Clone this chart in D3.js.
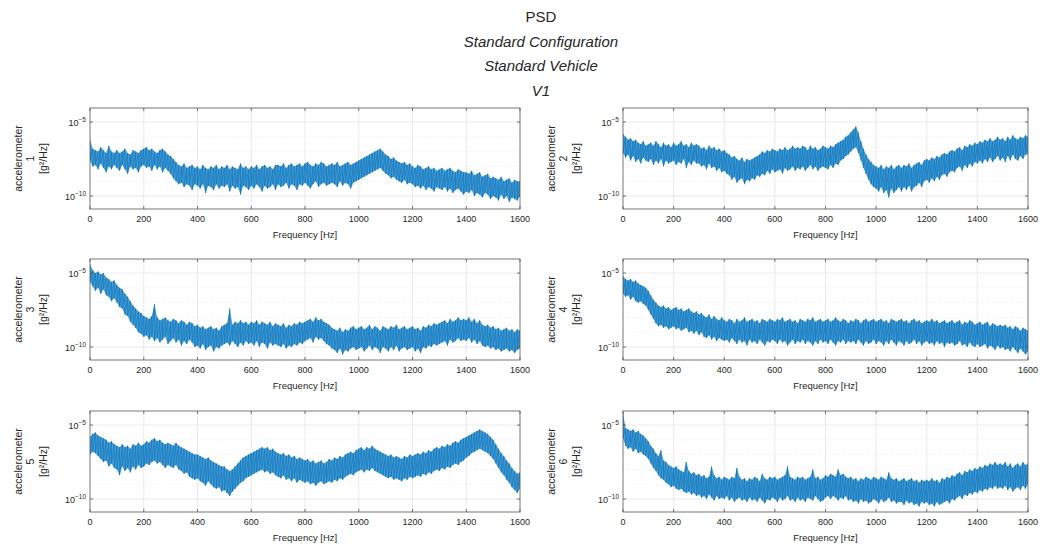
<!DOCTYPE html>
<html>
<head>
	<meta charset="utf-8">
	<title>PSD</title>
	<script type="text/javascript" src="https://cdnjs.cloudflare.com/ajax/libs/d3/7.8.5/d3.min.js"></script>
	<style type="text/css">
		body{ margin: 0; background-color: #fff; }
		svg text{ font-family: "Liberation Sans", Arial, sans-serif; fill: #262626; }
	</style>
</head>
<body>
	<svg id="chart" width="1040" height="549"></svg>
	<script type="text/javascript">
		// frequency bins, 10 Hz apart
		var freqHz = d3.range(0, 1601, 10);
		var xTicks = [0, 200, 400, 600, 800, 1000, 1200, 1400, 1600];
		var yTickExp = [-5, -10];
		var yDecades = [-5, -6, -7, -8, -9, -10];
		var titleLines = ['PSD', 'Standard Configuration', 'Standard Vehicle', 'V1'];

		// log10 of PSD [g^2/Hz]: upper and lower edge of the noisy band in each 10 Hz bin
		var hi1 = [
			-6.2, -6.8, -6.9, -7.0, -6.7, -6.9, -7.1, -6.6, -7.0, -7.1,
			-6.9, -7.1, -7.0, -6.8, -7.1, -7.2, -6.9, -7.0, -7.1, -6.9,
			-6.8, -6.7, -6.9, -6.8, -7.0, -7.1, -6.9, -6.8, -7.0, -7.2,
			-7.3, -7.5, -7.7, -7.9, -8.0, -7.8, -8.1, -8.0, -7.9, -8.1,
			-8.0, -8.2, -7.9, -8.1, -8.2, -8.0, -8.1, -7.9, -8.2, -8.0,
			-8.1, -7.9, -8.2, -8.0, -8.1, -8.2, -7.8, -8.1, -8.0, -8.2,
			-8.0, -8.1, -7.9, -8.2, -8.0, -7.9, -8.1, -8.0, -8.2, -7.9,
			-7.9, -8.0, -7.8, -8.1, -7.9, -7.8, -8.0, -7.9, -7.8, -8.0,
			-7.8, -7.7, -7.9, -8.0, -7.8, -7.9, -7.7, -7.8, -8.0, -7.9,
			-7.8, -7.9, -7.7, -8.0, -7.9, -7.8, -7.7, -7.9, -7.8, -7.7,
			-7.6, -7.5, -7.4, -7.3, -7.2, -7.1, -7.0, -6.9, -6.8, -7.0,
			-7.2, -7.3, -7.5, -7.4, -7.6, -7.7, -7.8, -7.7, -7.9, -7.8,
			-8.0, -8.1, -7.9, -8.0, -8.2, -8.1, -8.0, -8.2, -8.1, -8.3,
			-8.2, -8.1, -8.3, -8.2, -8.1, -8.3, -8.4, -8.2, -8.3, -8.4,
			-8.4, -8.5, -8.3, -8.6, -8.5, -8.4, -8.7, -8.6, -8.5, -8.8,
			-8.7, -8.8, -8.9, -8.7, -9.0, -8.9, -8.8, -9.1, -8.9, -9.0,
			-9.0
		];
		var lo1 = [
			-7.6, -8.0, -7.9, -8.2, -7.8, -8.1, -8.4, -8.0, -8.2, -7.9,
			-8.1, -8.3, -7.9, -8.2, -8.5, -8.0, -8.2, -8.1, -8.4, -8.0,
			-7.9, -8.1, -8.0, -8.3, -7.9, -8.2, -8.0, -8.4, -8.1, -8.3,
			-8.5, -8.8, -9.0, -9.2, -9.1, -9.4, -9.2, -9.3, -9.6, -9.2,
			-9.3, -9.5, -9.2, -9.8, -9.3, -9.4, -9.6, -9.2, -9.5, -9.3,
			-9.4, -9.2, -9.7, -9.3, -9.5, -9.4, -9.9, -9.3, -9.4, -9.6,
			-9.3, -9.5, -9.2, -9.4, -9.7, -9.3, -9.5, -9.4, -9.2, -9.6,
			-9.2, -9.4, -9.3, -9.1, -9.5, -9.2, -9.3, -9.6, -9.2, -9.3,
			-9.1, -9.3, -9.5, -9.2, -9.0, -9.4, -9.2, -9.1, -9.3, -9.2,
			-9.1, -9.2, -9.4, -9.0, -9.3, -9.1, -9.2, -9.5, -9.1, -9.0,
			-8.9, -8.8, -8.7, -8.6, -8.5, -8.4, -8.3, -8.2, -8.1, -8.3,
			-8.5, -8.6, -8.8, -8.7, -8.9, -9.0, -9.1, -8.9, -9.2, -9.1,
			-9.2, -9.4, -9.3, -9.5, -9.3, -9.6, -9.4, -9.5, -9.7, -9.4,
			-9.5, -9.6, -9.4, -9.7, -9.5, -9.8, -9.6, -9.5, -9.7, -9.9,
			-9.7, -9.8, -9.6, -10.0, -9.8, -9.9, -10.1, -9.8, -9.9, -10.2,
			-10.0, -10.1, -10.3, -9.9, -10.2, -10.0, -10.4, -10.1, -10.2, -10.3,
			-10.0
		];
		var hi2 = [
			-5.8, -6.0, -6.2, -6.1, -6.3, -6.2, -6.4, -6.5, -6.3, -6.6,
			-6.5, -6.4, -6.6, -6.3, -6.5, -6.7, -6.4, -6.6, -6.5, -6.7,
			-6.4, -6.6, -6.5, -6.3, -6.6, -6.5, -6.7, -6.4, -6.6, -6.5,
			-6.6, -6.8, -6.7, -6.9, -6.6, -6.8, -6.7, -6.9, -6.8, -7.0,
			-6.9, -7.1, -7.2, -7.4, -7.3, -7.5, -7.6, -7.4, -7.7, -7.5,
			-7.6, -7.5, -7.4, -7.3, -7.2, -7.0, -7.1, -6.9, -7.0, -6.8,
			-6.9, -7.0, -6.8, -6.9, -6.7, -6.9, -6.8, -6.6, -6.8, -6.7,
			-6.8, -6.6, -6.7, -6.9, -6.6, -6.8, -6.7, -6.9, -6.8, -6.6,
			-6.7, -6.8, -6.6, -6.7, -6.5, -6.4, -6.3, -6.2, -6.0, -5.9,
			-5.7, -5.5, -5.3, -5.7, -6.3, -6.8, -7.2, -7.5, -7.7, -7.9,
			-8.0, -8.1, -7.9, -8.2, -8.0, -8.1, -7.9, -8.2, -8.0, -7.9,
			-8.1, -7.9, -8.0, -7.8, -8.1, -7.9, -7.8, -7.7, -7.9, -7.6,
			-7.5, -7.6, -7.4, -7.5, -7.3, -7.4, -7.2, -7.1, -7.2, -7.0,
			-6.9, -7.0, -6.8, -6.7, -6.9, -6.6, -6.7, -6.5, -6.6, -6.4,
			-6.5, -6.3, -6.4, -6.2, -6.3, -6.1, -6.3, -6.2, -6.0, -6.2,
			-6.1, -6.3, -6.0, -6.2, -5.9, -6.1, -6.2, -6.0, -6.1, -5.9,
			-6.0
		];
		var lo2 = [
			-7.1, -7.4, -7.2, -7.6, -7.3, -7.7, -7.5, -7.8, -7.4, -7.6,
			-7.7, -7.5, -7.9, -7.6, -7.8, -7.5, -8.0, -7.6, -7.8, -7.7,
			-7.6, -7.9, -7.7, -7.8, -7.5, -8.1, -7.7, -7.9, -7.6, -7.8,
			-7.8, -8.0, -7.9, -8.2, -7.8, -8.1, -8.0, -8.3, -8.1, -8.4,
			-8.3, -8.5, -8.6, -8.9, -8.7, -9.1, -8.9, -8.8, -9.2, -8.9,
			-9.0, -8.8, -8.9, -8.6, -8.7, -8.5, -8.6, -8.3, -8.5, -8.2,
			-8.4, -8.3, -8.2, -8.5, -8.1, -8.3, -8.2, -8.0, -8.3, -8.1,
			-8.2, -8.0, -8.3, -8.1, -7.9, -8.2, -8.0, -8.3, -8.1, -8.0,
			-8.1, -8.2, -7.9, -8.1, -7.8, -7.9, -7.6, -7.5, -7.3, -7.2,
			-7.0, -6.8, -6.7, -7.1, -7.6, -8.1, -8.5, -8.9, -9.2, -9.4,
			-9.5, -9.7, -9.4, -9.8, -9.6, -10.1, -9.5, -9.8, -9.6, -9.4,
			-9.7, -9.4, -9.6, -9.3, -9.7, -9.4, -9.3, -9.1, -9.4, -9.0,
			-8.9, -9.1, -8.8, -9.0, -8.7, -8.9, -8.6, -8.5, -8.7, -8.4,
			-8.3, -8.4, -8.1, -8.0, -8.3, -7.9, -8.1, -7.8, -8.0, -7.7,
			-7.8, -7.6, -7.8, -7.5, -7.7, -7.4, -7.7, -7.5, -7.3, -7.6,
			-7.4, -7.7, -7.3, -7.6, -7.2, -7.5, -7.6, -7.3, -7.5, -7.2,
			-7.2
		];
		var hi3 = [
			-4.4, -4.8, -5.0, -4.9, -5.1, -5.0, -5.3, -5.4, -5.6, -5.5,
			-5.8, -6.0, -6.1, -6.4, -6.6, -6.9, -7.2, -7.4, -7.6, -7.7,
			-7.9, -8.0, -8.1, -7.9, -7.1, -8.0, -8.2, -8.1, -8.0, -8.2,
			-8.3, -8.1, -8.2, -8.4, -8.2, -8.3, -8.5, -8.3, -8.4, -8.6,
			-8.5, -8.7, -8.6, -8.8, -8.7, -8.6, -8.8, -8.7, -8.9, -8.6,
			-8.5, -8.4, -7.4, -8.5, -8.3, -8.4, -8.2, -8.4, -8.3, -8.5,
			-8.3, -8.4, -8.2, -8.5, -8.3, -8.4, -8.5, -8.3, -8.6, -8.4,
			-8.5, -8.6, -8.4, -8.7, -8.5, -8.6, -8.4, -8.5, -8.3, -8.4,
			-8.3, -8.2, -8.1, -8.3, -8.0, -8.2, -8.1, -8.3, -8.4, -8.5,
			-8.7, -8.8, -8.9, -8.7, -9.0, -8.8, -8.9, -8.7, -8.6, -8.8,
			-8.7, -8.6, -8.8, -8.7, -8.5, -8.8, -8.6, -8.7, -8.9, -8.6,
			-8.7, -8.8, -8.6, -8.7, -8.5, -8.8, -8.7, -8.6, -8.8, -8.7,
			-8.6, -8.8, -8.7, -8.9, -8.6, -8.7, -8.5, -8.6, -8.4, -8.5,
			-8.4, -8.3, -8.2, -8.4, -8.1, -8.3, -8.2, -8.0, -8.2, -8.1,
			-8.2, -8.0, -8.3, -8.1, -8.4, -8.2, -8.5, -8.6, -8.5, -8.7,
			-8.6, -8.8, -8.7, -8.9, -8.8, -8.7, -8.9, -8.8, -9.0, -8.8,
			-8.9
		];
		var lo3 = [
			-5.6, -5.9, -6.2, -6.0, -6.4, -6.1, -6.5, -6.6, -6.9, -6.7,
			-7.0, -7.3, -7.4, -7.8, -7.9, -8.3, -8.5, -8.7, -9.0, -9.1,
			-9.3, -9.2, -9.5, -9.3, -9.6, -9.4, -9.7, -9.5, -9.3, -9.8,
			-9.6, -9.4, -9.7, -9.5, -9.9, -9.6, -9.8, -9.5, -9.7, -10.0,
			-9.9, -10.1, -9.8, -10.2, -10.0, -9.9, -10.3, -10.0, -10.1, -9.9,
			-9.8, -9.7, -9.9, -9.6, -9.8, -10.0, -9.7, -9.9, -9.6, -9.8,
			-9.7, -9.9, -9.6, -10.0, -9.7, -9.8, -10.1, -9.7, -9.9, -9.8,
			-9.9, -10.0, -9.8, -10.1, -9.9, -10.0, -9.8, -9.9, -9.7, -9.8,
			-9.6, -9.5, -9.4, -9.7, -9.3, -9.5, -9.4, -9.6, -9.8, -9.9,
			-10.1, -10.2, -10.4, -10.1, -10.5, -10.2, -10.3, -10.1, -10.0, -10.2,
			-10.1, -10.0, -10.3, -10.1, -9.9, -10.2, -10.0, -10.1, -10.4, -10.0,
			-10.1, -10.3, -10.0, -10.2, -9.9, -10.3, -10.1, -10.0, -10.2, -10.1,
			-10.0, -10.3, -10.1, -10.4, -10.0, -10.1, -9.9, -10.0, -9.8, -9.9,
			-9.8, -9.7, -9.6, -9.9, -9.5, -9.7, -9.6, -9.4, -9.6, -9.5,
			-9.6, -9.4, -9.7, -9.5, -9.8, -9.6, -9.9, -10.0, -9.9, -10.1,
			-10.0, -10.2, -10.1, -10.3, -10.2, -10.1, -10.3, -10.2, -10.4, -10.2,
			-10.1
		];
		var hi4 = [
			-5.2, -5.4, -5.5, -5.4, -5.6, -5.5, -5.7, -5.8, -5.9, -6.0,
			-6.2, -6.5, -6.8, -7.0, -7.2, -7.3, -7.2, -7.4, -7.3, -7.5,
			-7.4, -7.3, -7.5, -7.4, -7.6, -7.5, -7.4, -7.6, -7.7, -7.6,
			-7.8, -7.7, -7.9, -8.0, -7.8, -8.1, -7.9, -8.1, -8.2, -8.0,
			-8.2, -8.3, -8.1, -8.2, -8.4, -8.1, -8.3, -8.2, -8.0, -8.3,
			-8.2, -8.1, -8.3, -8.2, -8.4, -8.1, -8.2, -8.3, -8.1, -8.2,
			-8.3, -8.1, -8.2, -8.0, -8.3, -8.2, -8.1, -8.3, -8.2, -8.4,
			-8.1, -8.2, -8.3, -8.1, -8.2, -8.0, -8.3, -8.2, -8.1, -8.3,
			-8.2, -8.1, -8.3, -8.2, -8.0, -8.2, -8.3, -8.1, -8.2, -8.4,
			-8.2, -8.3, -8.1, -8.2, -8.4, -8.2, -8.1, -8.3, -8.2, -8.1,
			-8.3, -8.2, -8.1, -8.3, -8.2, -8.4, -8.1, -8.2, -8.3, -8.2,
			-8.1, -8.3, -8.2, -8.4, -8.2, -8.1, -8.3, -8.2, -8.4, -8.3,
			-8.2, -8.3, -8.1, -8.3, -8.2, -8.4, -8.3, -8.2, -8.4, -8.3,
			-8.2, -8.4, -8.3, -8.2, -8.5, -8.3, -8.4, -8.2, -8.3, -8.5,
			-8.4, -8.3, -8.5, -8.4, -8.3, -8.6, -8.4, -8.5, -8.6, -8.5,
			-8.6, -8.5, -8.7, -8.6, -8.8, -8.6, -8.7, -8.9, -8.7, -8.8,
			-8.9
		];
		var lo4 = [
			-6.4, -6.6, -6.5, -6.8, -6.6, -6.9, -7.0, -6.9, -7.1, -7.2,
			-7.5, -7.8, -8.1, -8.4, -8.6, -8.5, -8.7, -8.6, -8.8, -8.7,
			-8.6, -8.8, -8.7, -8.9, -8.8, -8.7, -9.0, -8.9, -9.1, -8.9,
			-9.2, -9.0, -9.3, -9.4, -9.2, -9.5, -9.3, -9.6, -9.4, -9.5,
			-9.6, -9.5, -9.7, -9.4, -9.6, -9.8, -9.5, -9.7, -9.6, -9.9,
			-9.5, -9.7, -9.6, -9.8, -9.5, -9.7, -9.9, -9.6, -9.7, -9.5,
			-9.6, -9.8, -9.5, -9.7, -9.6, -9.9, -9.7, -9.5, -9.8, -9.6,
			-9.7, -9.5, -9.8, -9.6, -9.7, -9.9, -9.6, -9.8, -9.5, -9.7,
			-9.6, -9.8, -9.5, -9.7, -9.9, -9.6, -9.7, -9.5, -9.8, -9.6,
			-9.7, -9.6, -9.8, -9.5, -9.7, -9.9, -9.6, -9.8, -9.7, -9.5,
			-9.8, -9.6, -9.7, -9.9, -9.6, -9.8, -9.5, -9.7, -9.9, -9.6,
			-9.7, -9.9, -9.6, -9.8, -9.7, -9.5, -9.8, -9.6, -9.9, -9.7,
			-9.6, -9.8, -9.7, -9.9, -9.6, -9.8, -9.7, -10.0, -9.7, -9.8,
			-9.7, -9.9, -9.8, -9.6, -9.9, -9.8, -10.0, -9.7, -9.9, -10.0,
			-9.8, -10.0, -9.9, -9.8, -10.1, -9.9, -10.0, -10.2, -9.9, -10.1,
			-10.0, -10.2, -10.1, -10.3, -10.0, -10.2, -10.4, -10.1, -10.3, -10.5,
			-10.3
		];
		var hi5 = [
			-5.8, -5.6, -5.5, -5.7, -5.8, -5.9, -6.0, -6.2, -6.1, -6.3,
			-6.4, -6.5, -6.3, -6.5, -6.4, -6.6, -6.3, -6.4, -6.2, -6.4,
			-6.3, -6.1, -6.2, -6.0, -5.9, -6.1, -6.0, -6.2, -6.3, -6.2,
			-6.3, -6.4, -6.2, -6.4, -6.5, -6.6, -6.7, -6.8, -6.9, -7.0,
			-7.0, -7.1, -7.2, -7.3, -7.2, -7.4, -7.5, -7.6, -7.7, -7.8,
			-7.8, -8.0, -8.1, -8.0, -7.8, -7.6, -7.4, -7.2, -7.1, -7.0,
			-6.9, -6.8, -6.7, -6.6, -6.5, -6.6, -6.5, -6.7, -6.6, -6.8,
			-6.9, -7.0, -6.9, -7.1, -7.0, -7.2, -7.1, -7.3, -7.2, -7.3,
			-7.4, -7.3, -7.5, -7.4, -7.6, -7.5, -7.4, -7.6, -7.5, -7.3,
			-7.4, -7.2, -7.3, -7.1, -7.2, -7.0, -6.9, -6.8, -6.9, -6.7,
			-6.6, -6.5, -6.7, -6.5, -6.6, -6.4, -6.6, -6.7, -6.8, -6.9,
			-7.0, -7.1, -7.0, -7.2, -7.1, -7.2, -7.3, -7.1, -7.2, -7.0,
			-7.1, -7.0, -6.9, -7.0, -6.8, -6.9, -6.7, -6.8, -6.6, -6.5,
			-6.6, -6.4, -6.5, -6.3, -6.4, -6.2, -6.1, -6.2, -6.0, -5.9,
			-5.8, -5.7, -5.6, -5.5, -5.4, -5.3, -5.4, -5.5, -5.6, -5.8,
			-6.0, -6.3, -6.6, -6.9, -7.1, -7.4, -7.6, -7.9, -8.1, -8.3,
			-8.2
		];
		var lo5 = [
			-7.0, -6.8, -6.9, -7.1, -7.3, -7.5, -7.4, -7.8, -7.6, -7.9,
			-8.0, -8.4, -7.8, -8.1, -7.9, -8.2, -7.8, -8.0, -7.7, -7.9,
			-7.8, -7.6, -7.7, -7.5, -7.4, -7.6, -7.5, -7.7, -7.9, -7.7,
			-7.8, -7.9, -7.7, -8.0, -8.1, -8.3, -8.2, -8.5, -8.6, -8.7,
			-8.6, -8.8, -8.9, -9.1, -8.8, -9.0, -9.2, -9.3, -9.2, -9.5,
			-9.4, -9.6, -9.8, -9.5, -9.3, -9.1, -8.9, -8.8, -8.6, -8.5,
			-8.4, -8.3, -8.2, -8.1, -8.0, -8.2, -8.1, -8.3, -8.2, -8.4,
			-8.5, -8.6, -8.4, -8.7, -8.6, -8.8, -8.6, -8.9, -8.7, -8.8,
			-8.9, -8.8, -9.0, -8.9, -9.1, -8.9, -8.8, -9.0, -8.9, -8.8,
			-8.9, -8.7, -8.8, -8.6, -8.7, -8.5, -8.4, -8.3, -8.4, -8.2,
			-8.1, -8.0, -8.2, -8.0, -8.1, -7.9, -8.1, -8.2, -8.3, -8.4,
			-8.5, -8.6, -8.5, -8.7, -8.6, -8.7, -8.8, -8.6, -8.7, -8.5,
			-8.6, -8.5, -8.4, -8.5, -8.3, -8.4, -8.2, -8.3, -8.1, -8.0,
			-8.1, -7.9, -8.0, -7.8, -7.9, -7.7, -7.6, -7.7, -7.5, -7.4,
			-7.2, -7.1, -6.9, -6.8, -6.7, -6.6, -6.7, -6.8, -6.9, -7.1,
			-7.3, -7.6, -7.9, -8.2, -8.4, -8.7, -8.9, -9.2, -9.4, -9.6,
			-9.3
		];
		var hi6 = [
			-4.2, -5.2, -5.3, -5.4, -5.3, -5.5, -5.4, -5.6, -5.7, -5.9,
			-6.1, -6.4, -6.6, -6.9, -7.1, -6.7, -7.4, -7.5, -7.7, -7.8,
			-7.9, -7.8, -8.0, -8.1, -8.2, -7.5, -8.1, -8.3, -8.2, -8.4,
			-8.3, -8.5, -8.4, -8.6, -8.5, -7.8, -8.4, -8.6, -8.5, -8.7,
			-8.5, -8.6, -8.7, -8.5, -8.6, -7.9, -8.5, -8.7, -8.6, -8.8,
			-8.6, -8.7, -8.5, -8.6, -8.8, -8.3, -8.6, -8.7, -8.5, -8.6,
			-8.5, -8.7, -8.6, -8.5, -8.4, -7.8, -8.5, -8.6, -8.7, -8.5,
			-8.6, -8.5, -8.7, -8.6, -8.5, -8.0, -8.6, -8.5, -8.7, -8.6,
			-8.4, -8.5, -8.3, -8.4, -8.5, -8.0, -8.4, -8.3, -8.5, -8.6,
			-8.5, -8.7, -8.6, -8.8, -8.6, -8.7, -8.5, -8.6, -8.7, -8.5,
			-8.6, -8.7, -8.5, -8.6, -8.7, -8.2, -8.6, -8.7, -8.6, -8.8,
			-8.7, -8.6, -8.8, -8.7, -8.6, -8.8, -8.7, -8.9, -8.7, -8.8,
			-8.7, -8.8, -8.6, -8.8, -8.7, -8.9, -8.6, -8.7, -8.5, -8.6,
			-8.4, -8.5, -8.3, -8.2, -8.4, -8.1, -8.2, -8.0, -8.1, -7.9,
			-8.0, -7.8, -7.9, -7.7, -7.8, -7.6, -7.7, -7.5, -7.7, -7.6,
			-7.7, -7.5, -7.8, -7.6, -7.9, -7.7, -7.6, -7.8, -7.5, -7.7,
			-7.6
		];
		var lo6 = [
			-5.9, -6.4, -6.6, -6.5, -6.8, -6.6, -6.9, -6.8, -7.0, -7.1,
			-7.3, -7.6, -7.9, -8.1, -8.4, -8.6, -8.7, -8.9, -9.0, -9.2,
			-9.1, -9.3, -9.4, -9.3, -9.5, -9.6, -9.5, -9.7, -9.6, -9.8,
			-9.7, -9.9, -9.8, -10.0, -9.7, -9.9, -10.1, -9.8, -10.0, -9.9,
			-10.0, -9.8, -10.1, -9.9, -10.2, -10.0, -9.9, -10.1, -10.0, -10.2,
			-9.9, -10.1, -10.0, -10.2, -9.9, -10.1, -10.3, -10.0, -10.1, -9.9,
			-10.0, -10.2, -9.9, -10.1, -10.0, -9.8, -10.1, -10.0, -10.2, -9.9,
			-10.1, -10.0, -10.2, -9.9, -10.0, -10.1, -9.8, -10.0, -10.2, -10.1,
			-9.9, -9.8, -10.0, -9.8, -9.9, -10.1, -9.9, -10.0, -9.8, -10.1,
			-10.0, -10.2, -10.1, -10.3, -10.0, -10.2, -10.1, -10.3, -10.2, -10.0,
			-10.1, -10.3, -10.0, -10.2, -10.1, -9.9, -10.2, -10.1, -10.3, -10.2,
			-10.2, -10.4, -10.1, -10.3, -10.2, -10.4, -10.3, -10.5, -10.2, -10.3,
			-10.2, -10.4, -10.3, -10.5, -10.2, -10.4, -10.3, -10.2, -10.1, -10.3,
			-10.0, -10.1, -9.9, -9.8, -10.0, -9.7, -9.8, -9.6, -9.7, -9.5,
			-9.6, -9.4, -9.5, -9.3, -9.4, -9.2, -9.3, -9.1, -9.3, -9.2,
			-9.3, -9.1, -9.4, -9.2, -9.5, -9.3, -9.2, -9.4, -9.1, -9.3,
			-9.0
		];
		var upper = [hi1, hi2, hi3, hi4, hi5, hi6];
		var lower = [lo1, lo2, lo3, lo4, lo5, lo6];

		var svg = d3.select('#chart');
		var cols = [[90, 520], [623, 1028]];
		var rows = [[108, 209], [259, 360], [411, 512]];
		var blue = '#0072BD';

		svg.selectAll('text.title').data(titleLines).enter().append('text')
			.attr('class', 'title')
			.attr('x', 541)
			.attr('y', function(d, i){ return 22 + i * 24.5; })
			.attr('text-anchor', 'middle')
			.style('font-size', '15px')
			.style('font-style', function(d, i){ return i == 0 ? 'normal' : 'italic'; })
			.text(function(d){ return d; });

		upper.forEach(function(hiVals, k){
			var loVals = lower[k];
			var c = cols[k % 2], r = rows[Math.floor(k / 2)];
			var x = d3.scaleLinear().domain([0, 1600]).range(c);
			var y = d3.scaleLog().domain([Math.pow(10, -10.88), Math.pow(10, -4.05)]).range([r[1], r[0]]);
			var ye = function(e){ return y(Math.pow(10, e)); };
			var g = svg.append('g');

			// grid
			g.selectAll('line.vg').data(xTicks.slice(1, -1)).enter().append('line')
				.attr('x1', function(d){ return x(d); }).attr('x2', function(d){ return x(d); })
				.attr('y1', r[0]).attr('y2', r[1])
				.attr('stroke', '#dcdcdc').attr('stroke-width', 0.6);
			g.selectAll('line.mg').data(yDecades).enter().append('line')
				.attr('x1', c[0]).attr('x2', c[1])
				.attr('y1', function(d){ return ye(d); })
				.attr('y2', function(d){ return ye(d); })
				.attr('stroke', function(d){ return (d == -5 || d == -10) ? '#dcdcdc' : '#e4e4e4'; })
				.attr('stroke-width', 0.6)
				.attr('stroke-dasharray', function(d){ return (d == -5 || d == -10) ? null : '1,2'; });

			// data band + trace
			var clipId = 'clip' + k;
			svg.append('clipPath').attr('id', clipId).append('rect')
				.attr('x', c[0]).attr('y', r[0]).attr('width', c[1] - c[0]).attr('height', r[1] - r[0]);
			var band = d3.area()
				.x(function(d, i){ return x(freqHz[i]); })
				.y0(function(d, i){ return ye(loVals[i]); })
				.y1(function(d){ return ye(d); });
			g.append('path').datum(hiVals)
				.attr('clip-path', 'url(#' + clipId + ')')
				.attr('d', band)
				.attr('fill', blue).attr('fill-opacity', 0.7);
			var trace = [];
			freqHz.forEach(function(f, i){
				trace.push([f, hiVals[i]]);
				trace.push([f, loVals[i]]);
			});
			var line = d3.line()
				.x(function(d){ return x(d[0]); })
				.y(function(d){ return ye(d[1]); });
			g.append('path').datum(trace)
				.attr('clip-path', 'url(#' + clipId + ')')
				.attr('d', line)
				.attr('fill', 'none')
				.attr('stroke', blue)
				.attr('stroke-width', 0.6);

			// box
			g.append('rect')
				.attr('x', c[0]).attr('y', r[0]).attr('width', c[1] - c[0]).attr('height', r[1] - r[0])
				.attr('fill', 'none').attr('stroke', '#555').attr('stroke-width', 0.8);

			// x ticks
			g.selectAll('line.xt').data(xTicks).enter().append('line')
				.attr('x1', function(d){ return x(d); }).attr('x2', function(d){ return x(d); })
				.attr('y1', r[1]).attr('y2', r[1] - 3)
				.attr('stroke', '#555').attr('stroke-width', 0.8);
			g.selectAll('line.xt2').data(xTicks).enter().append('line')
				.attr('x1', function(d){ return x(d); }).attr('x2', function(d){ return x(d); })
				.attr('y1', r[0]).attr('y2', r[0] + 3)
				.attr('stroke', '#555').attr('stroke-width', 0.8);
			g.selectAll('text.xl').data(xTicks).enter().append('text')
				.attr('x', function(d){ return x(d); })
				.attr('y', r[1] + 13)
				.attr('text-anchor', 'middle')
				.style('font-size', '9px')
				.text(function(d){ return d; });
			g.append('text')
				.attr('x', (c[0] + c[1]) / 2).attr('y', r[1] + 29)
				.attr('text-anchor', 'middle')
				.style('font-size', '9.5px')
				.text('Frequency [Hz]');

			// y ticks
			g.selectAll('line.yt').data(yTickExp).enter().append('line')
				.attr('x1', c[0]).attr('x2', c[0] + 3)
				.attr('y1', function(d){ return ye(d); })
				.attr('y2', function(d){ return ye(d); })
				.attr('stroke', '#555').attr('stroke-width', 0.8);
			g.selectAll('line.yt2').data(yTickExp).enter().append('line')
				.attr('x1', c[1]).attr('x2', c[1] - 3)
				.attr('y1', function(d){ return ye(d); })
				.attr('y2', function(d){ return ye(d); })
				.attr('stroke', '#555').attr('stroke-width', 0.8);
			var yl = g.selectAll('text.yl').data(yTickExp).enter().append('text')
				.attr('x', c[0] - 4)
				.attr('y', function(d){ return ye(d) + 4; })
				.attr('text-anchor', 'end')
				.style('font-size', '9px');
			yl.append('tspan').text('10');
			yl.append('tspan').attr('dy', -4).style('font-size', '6.5px')
				.text(function(d){ return '\u2212' + Math.abs(d); });

			// y label (three lines)
			var cy = (r[0] + r[1]) / 2;
			var lx = c[0] - 72;
			['accelerometer', String(k + 1), '[g\u00b2/Hz]'].forEach(function(s, j){
				g.append('text')
					.attr('transform', 'translate(' + (lx + j * 12.5) + ',' + cy + ') rotate(-90)')
					.attr('text-anchor', 'middle')
					.attr('dy', '0.35em')
					.style('font-size', '10.5px')
					.text(s);
			});
		});
	</script>
</body>
</html>
